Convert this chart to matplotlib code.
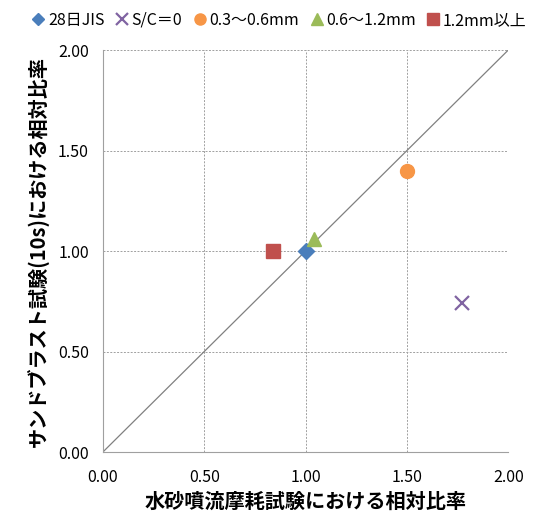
import matplotlib
matplotlib.use("Agg")
import matplotlib.pyplot as plt

plt.rcParams['font.family'] = ['Noto Sans CJK JP', 'DejaVu Sans']

# relative ratios
labels = ["28日JIS", "S/C＝0", "0.3～0.6mm", "0.6～1.2mm", "1.2mm以上"]
x_vals = [1.00, 1.77, 1.50, 1.04, 0.84]
y_vals = [1.00, 0.74, 1.40, 1.06, 1.00]
markers = ["D", "x", "o", "^", "s"]
colors = ["#4A7EBB", "#8064A2", "#F79646", "#9BBB59", "#C0504D"]
sizes = [8, 10, 10, 10, 10]
ticks = [0.0, 0.5, 1.0, 1.5, 2.0]

fig = plt.figure(figsize=(5.5, 5.22), dpi=100)
ax = fig.add_axes([0.187, 0.134, 0.737, 0.770])

ax.plot([0, 2], [0, 2], color="#808080", lw=0.9, zorder=2)
for xv, yv, m, c, s, lab in zip(x_vals, y_vals, markers, colors, sizes, labels):
    kw = dict(markeredgewidth=1.6) if m == "x" else dict(markeredgecolor=c)
    ax.plot([xv], [yv], linestyle="none", marker=m, color=c, markersize=s,
            label=lab, zorder=3, **kw)

ax.set_xlim(0, 2)
ax.set_ylim(0, 2)
ax.set_xticks(ticks)
ax.set_yticks(ticks)
ax.set_xticklabels([f"{t:.2f}" for t in ticks])
ax.set_yticklabels([f"{t:.2f}" for t in ticks])
ax.tick_params(length=0, labelsize=11.5)
ax.tick_params(axis="x", pad=12)
ax.tick_params(axis="y", pad=10)
ax.grid(True, linestyle=(0, (2, 1.5)), color="#A0A0A0", lw=0.7)
for side in ["top", "right"]:
    ax.spines[side].set_visible(False)
for side in ["left", "bottom"]:
    ax.spines[side].set_color("#A0A0A0")

ax.set_xlabel("水砂噴流摩耗試験における相対比率", fontsize=14.5, fontweight="bold", labelpad=4)
ax.set_ylabel("サンドブラスト試験(10s)における相対比率", fontsize=14.5, fontweight="bold", labelpad=6)

fig.legend(loc="upper center", bbox_to_anchor=(0.505, 1.005), ncol=5, frameon=False,
           fontsize=11.5, handletextpad=0.0, columnspacing=0.5, handlelength=1.2,
           markerscale=0.8)

fig.savefig("out.png", dpi=100)
